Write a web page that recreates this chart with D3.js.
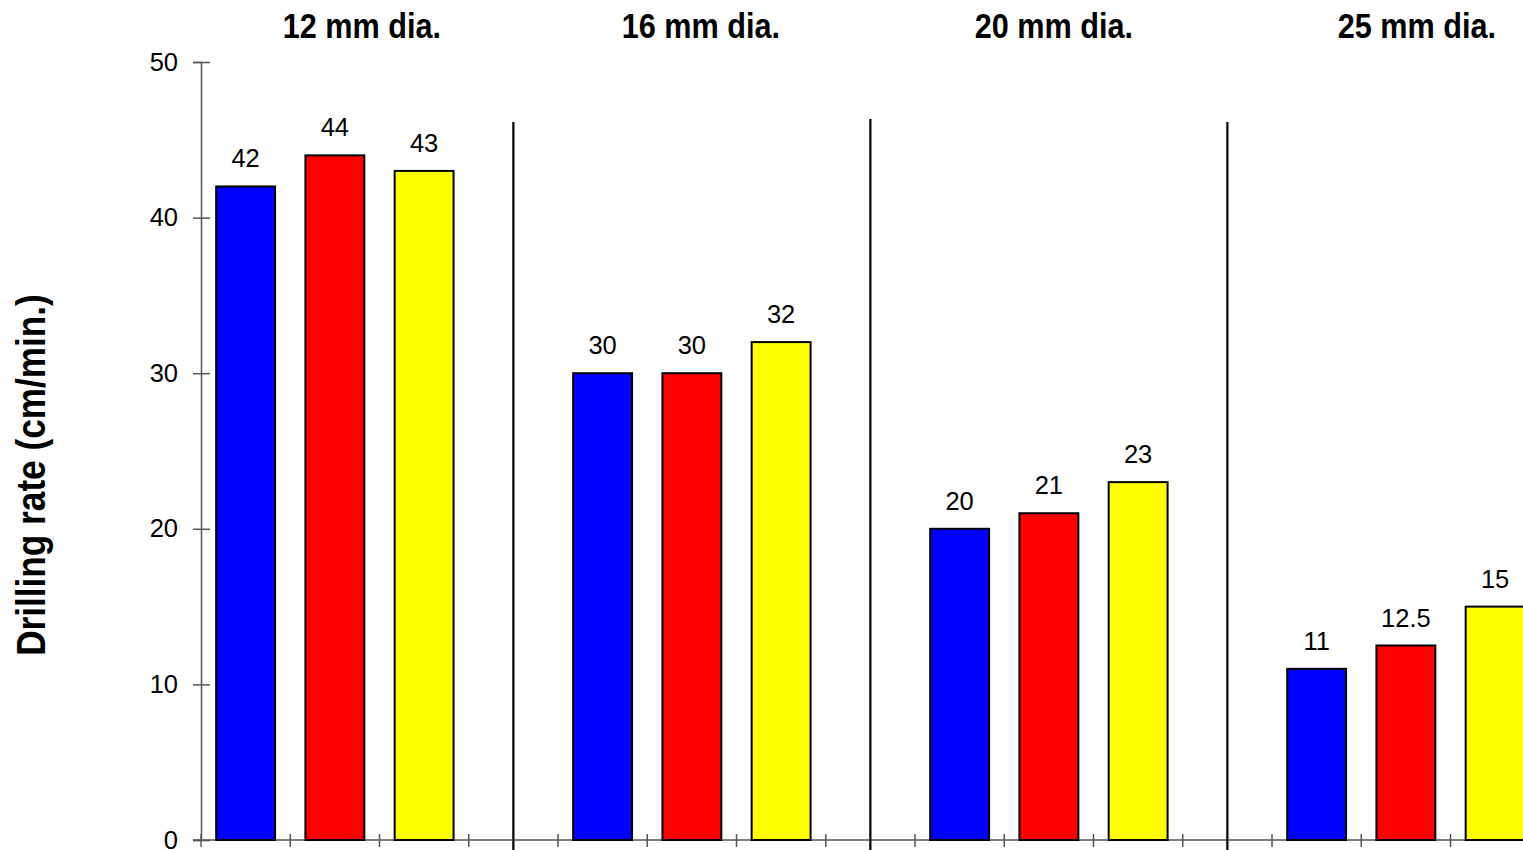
<!DOCTYPE html>
<html>
<head>
<meta charset="utf-8">
<script src="https://cdn.jsdelivr.net/npm/d3@7"></script>
<style>
  html, body { margin: 0; padding: 0; background: #fff; overflow: hidden; }
  svg { display: block; }
</style>
</head>
<body>
<svg id="chart" width="1523" height="850"></svg>
<script>
// ---- data ----
const categories = ["12 mm dia.", "16 mm dia.", "20 mm dia.", "25 mm dia."];
const seriesBlue = [42, 30, 20, 11];
const seriesRed = [44, 30, 21, 12.5];
const seriesYellow = [43, 32, 23, 15];
const seriesColors = ["#0000ff", "#ff0000", "#ffff00"];
const yTicks = [0, 10, 20, 30, 40, 50];
const yLabel = "Drilling rate (cm/min.)";

const seriesList = [seriesBlue, seriesRed, seriesYellow];

// ---- layout ----
const W = 1523, H = 850;
const plotLeft = 201, plotBottom = 840, plotTop = 62;
const groupStep = 357;
const titleOffsets = [27, 9, 5, 11];
const sepTops = [122, 119, 122];

const svg = d3.select("#chart");

const y = d3.scaleLinear().domain([0, 50]).range([plotBottom, plotTop]);
const x0 = d3.scaleBand().domain(categories).range([plotLeft, plotLeft + groupStep * categories.length]).padding(0);
const slots = [0, 1, 2, 3];
const x1 = d3.scaleBand().domain(slots).range([0, x0.bandwidth()]).paddingInner(0.34).paddingOuter(0.17);
const slotStep = x1.step();

// x axis baseline
svg.append("line")
  .attr("x1", 193).attr("x2", W)
  .attr("y1", y(0)).attr("y2", y(0))
  .attr("stroke", "#555").attr("stroke-width", 1.5);

// x ticks at slot boundaries
const xTickPos = [];
categories.forEach(c => slots.forEach(s => xTickPos.push(x0(c) + s * slotStep)));
svg.append("g").selectAll("line").data(xTickPos).join("line")
  .attr("x1", d => d).attr("x2", d => d)
  .attr("y1", y(0) - 6).attr("y2", y(0) + 7)
  .attr("stroke", "#555").attr("stroke-width", 1.5);

// y axis
const yAxis = d3.axisLeft(y).tickValues(yTicks).tickSize(8).tickPadding(15);
const yg = svg.append("g").attr("transform", `translate(${plotLeft},0)`).call(yAxis);
yg.select(".domain").attr("stroke", "#555").attr("stroke-width", 1.5);
yg.selectAll(".tick line").attr("stroke", "#555").attr("stroke-width", 1.5).attr("x2", 9).attr("x1", -8);
yg.selectAll(".tick text")
  .attr("font-family", "'Liberation Sans', Arial, sans-serif")
  .attr("font-size", 25.5).attr("fill", "#000");

// separators between groups
const seps = categories.slice(0, -1).map((c, i) => ({ x: x0(c) + 3.5 * slotStep, t: sepTops[i] }));
svg.append("g").selectAll("line").data(seps).join("line")
  .attr("x1", d => d.x).attr("x2", d => d.x)
  .attr("y1", d => d.t).attr("y2", H)
  .attr("stroke", "#000").attr("stroke-width", 2.2);

// bars
const groups = svg.append("g").selectAll("g").data(categories).join("g")
  .attr("transform", c => `translate(${x0(c)},0)`);

groups.each(function (c, gi) {
  const g = d3.select(this);
  seriesList.forEach((ser, si) => {
    const v = ser[gi];
    g.append("rect")
      .attr("x", x1(si)).attr("width", x1.bandwidth())
      .attr("y", y(v)).attr("height", y(0) - y(v))
      .attr("fill", seriesColors[si]).attr("stroke", "#000").attr("stroke-width", 2);
    g.append("text")
      .attr("x", x1(si) + x1.bandwidth() / 2)
      .attr("y", y(v) - 19)
      .attr("text-anchor", "middle")
      .attr("font-family", "'Liberation Sans', Arial, sans-serif")
      .attr("font-size", 25.5).attr("fill", "#000")
      .text(v);
  });
});

// group titles (condensed bold)
svg.append("g").selectAll("text").data(categories).join("text")
  .attr("transform", (c, i) => `translate(${x0(c) + 1.5 * slotStep + titleOffsets[i]},38) scale(0.875,1)`)
  .attr("text-anchor", "middle")
  .attr("font-family", "'Liberation Sans', Arial, sans-serif")
  .attr("font-weight", "bold")
  .attr("font-size", 35).attr("fill", "#000")
  .text(c => c);

// y label (condensed bold)
svg.append("text")
  .attr("transform", `translate(45,475) rotate(-90) scale(0.88,1)`)
  .attr("text-anchor", "middle")
  .attr("font-family", "'Liberation Sans', Arial, sans-serif")
  .attr("font-weight", "bold")
  .attr("font-size", 40).attr("fill", "#000")
  .text(yLabel);
</script>
</body>
</html>
